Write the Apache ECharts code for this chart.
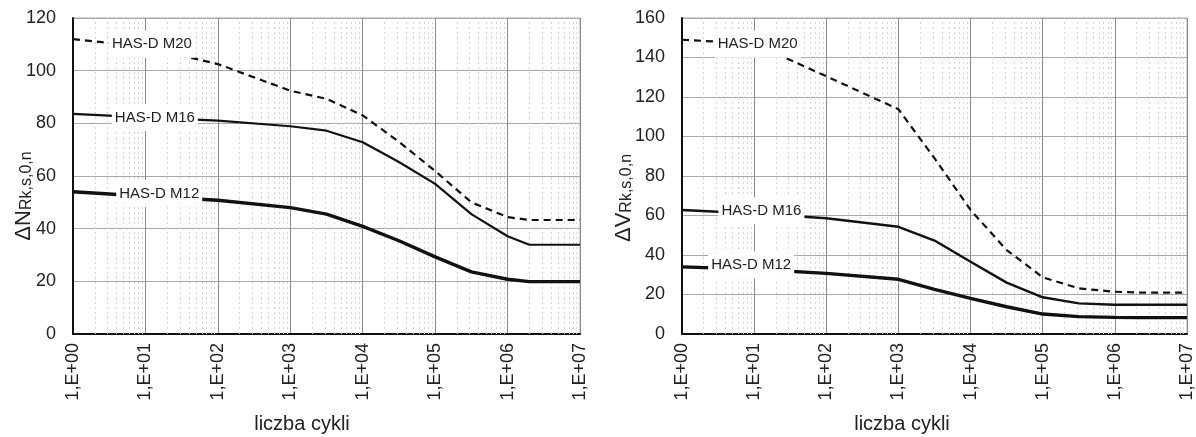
<!DOCTYPE html>
<html>
<head>
<meta charset="utf-8">
<script src="https://cdn.jsdelivr.net/npm/echarts@6/dist/echarts.min.js"></script>
<style>
html,body{margin:0;padding:0;background:#fff;}
#c{width:1196px;height:437px;}
</style>
</head>
<body>
<div id="c"></div>
<script>
// ---- data ----
const cycles = [1, 10, 100, 1000, 3162, 10000, 31623, 100000, 316228, 1000000, 2000000, 10000000];
const xTickLabels = ['1,E+00','1,E+01','1,E+02','1,E+03','1,E+04','1,E+05','1,E+06','1,E+07'];
const seriesNames = ['HAS-D M20', 'HAS-D M16', 'HAS-D M12'];
// left chart: ΔN
const nM20 = [112, 109, 102.5, 92.4, 89.3, 83, 73, 61.9, 50, 44.4, 43.3, 43.3];
const nM16 = [83.6, 82.3, 81, 78.9, 77.2, 72.8, 65.3, 57, 45.5, 37.1, 33.9, 33.9];
const nM12 = [54, 52.3, 50.8, 48, 45.5, 40.9, 35.4, 29.3, 23.6, 20.8, 19.9, 19.9];
// right chart: ΔV
const vM20 = [149, 147, 130.5, 113.8, 89, 62.8, 42.5, 28.7, 23.1, 21.4, 21, 21];
const vM16 = [62.8, 61, 58.6, 54.3, 47.3, 36.6, 26, 18.6, 15.5, 14.8, 14.8, 14.8];
const vM12 = [34, 32.8, 30.7, 27.7, 22.6, 18, 13.8, 10.1, 8.8, 8.4, 8.3, 8.3];
const xAxisTitle = 'liczba cykli';

// ---- chart ----
const FONT = 'Liberation Sans, Arial, sans-serif';
const minorX = [];
for (let d = 0; d < 7; d++) for (let k = 2; k <= 9; k++) minorX.push(k * Math.pow(10, d));

function pts(arr) { return cycles.map((c, i) => [c, arr[i]]); }

function xAxis(gi) {
  return {
    type: 'log', logBase: 10, gridIndex: gi, min: 1, max: 10000000,
    axisLine: { show: true, onZero: false, lineStyle: { color: '#111', width: 2 } },
    axisTick: { show: false },
    axisLabel: {
      rotate: 90, margin: 9, fontSize: 18, color: '#222', fontFamily: FONT,
      formatter: v => xTickLabels[Math.round(Math.log10(v))]
    },
    splitLine: { show: true, lineStyle: { color: '#8a8a8a', width: 1 } },
    minorTick: { show: false }, minorSplitLine: { show: false }
  };
}
function yAxis(gi, max) {
  return {
    type: 'value', gridIndex: gi, min: 0, max: max, interval: 20,
    axisLine: { show: true, lineStyle: { color: '#111', width: 2 } },
    axisTick: { show: false },
    axisLabel: { margin: 17, fontSize: 18, color: '#222', fontFamily: FONT },
    splitLine: { show: true, lineStyle: { color: '#a8a8a8', width: 1 } }
  };
}
function minorSeries(gi) {
  return {
    type: 'line', xAxisIndex: gi, yAxisIndex: gi, data: [], z: 1, silent: true,
    markLine: {
      silent: true, symbol: 'none', z: 1, animation: false,
      label: { show: false },
      lineStyle: { type: [2, 3], color: '#d4d4d4', width: 1 },
      data: minorX.map(v => ({ xAxis: v }))
    }
  };
}
function curve(gi, name, arr, width, dashed, lab) {
  return {
    type: 'line', name: name, xAxisIndex: gi, yAxisIndex: gi, data: pts(arr),
    showSymbol: false, symbol: 'none', z: 3, animation: false,
    lineStyle: { color: '#111', width: width, type: dashed ? [7, 5] : 'solid' },
    markPoint: {
      symbol: 'rect', symbolSize: 1, itemStyle: { color: 'rgba(0,0,0,0)' }, z: 6, animation: false,
      label: {
        show: true, position: 'inside', formatter: name, fontSize: 15, fontFamily: FONT,
        color: '#222', backgroundColor: '#fff', padding: [6, 3]
      },
      data: [{ coord: lab }]
    }
  };
}
function yName(x, y, main, sub) {
  return {
    type: 'text', x: x, y: y, rotation: Math.PI / 2, z: 10,
    style: {
      text: '{a|' + main + '}{b|' + sub + '}', align: 'center', verticalAlign: 'middle',
      rich: {
        a: { fontSize: 22, fontFamily: FONT, fill: '#222', lineHeight: 26, verticalAlign: 'bottom' },
        b: { fontSize: 16, fontFamily: FONT, fill: '#222', lineHeight: 26, verticalAlign: 'bottom' }
      }
    }
  };
}

const chart = echarts.init(document.getElementById('c'), null, { renderer: 'canvas' });
chart.setOption({
  backgroundColor: '#fff',
  animation: false,
  grid: [
    { left: 73, top: 18, width: 507, height: 316, show: true, borderColor: '#a8a8a8', borderWidth: 1 },
    { left: 682, top: 18, width: 505, height: 316, show: true, borderColor: '#a8a8a8', borderWidth: 1 }
  ],
  xAxis: [xAxis(0), xAxis(1)],
  yAxis: [yAxis(0, 120), yAxis(1, 160)],
  graphic: [
    yName(22, 196, 'ΔN', 'Rk,s,0,n'),
    yName(622, 198, 'ΔV', 'Rk,s,0,n'),
    { type: 'text', x: 302, y: 424, style: { text: xAxisTitle, fontSize: 20, fontFamily: FONT, fill: '#222', align: 'center', verticalAlign: 'middle' } },
    { type: 'text', x: 902, y: 424, style: { text: xAxisTitle, fontSize: 20, fontFamily: FONT, fill: '#222', align: 'center', verticalAlign: 'middle' } }
  ],
  series: [
    minorSeries(0), minorSeries(1),
    curve(0, seriesNames[0], nM20, 2.2, true, [12.3, 110]),
    curve(0, seriesNames[1], nM16, 2.2, false, [13.5, 82.2]),
    curve(0, seriesNames[2], nM12, 3.4, false, [15.5, 53.4]),
    curve(1, seriesNames[0], vM20, 2.2, true, [11.2, 146.7]),
    curve(1, seriesNames[1], vM16, 2.4, false, [12.6, 62.4]),
    curve(1, seriesNames[2], vM12, 3.4, false, [9.1, 35])
  ]
});
</script>
</body>
</html>
